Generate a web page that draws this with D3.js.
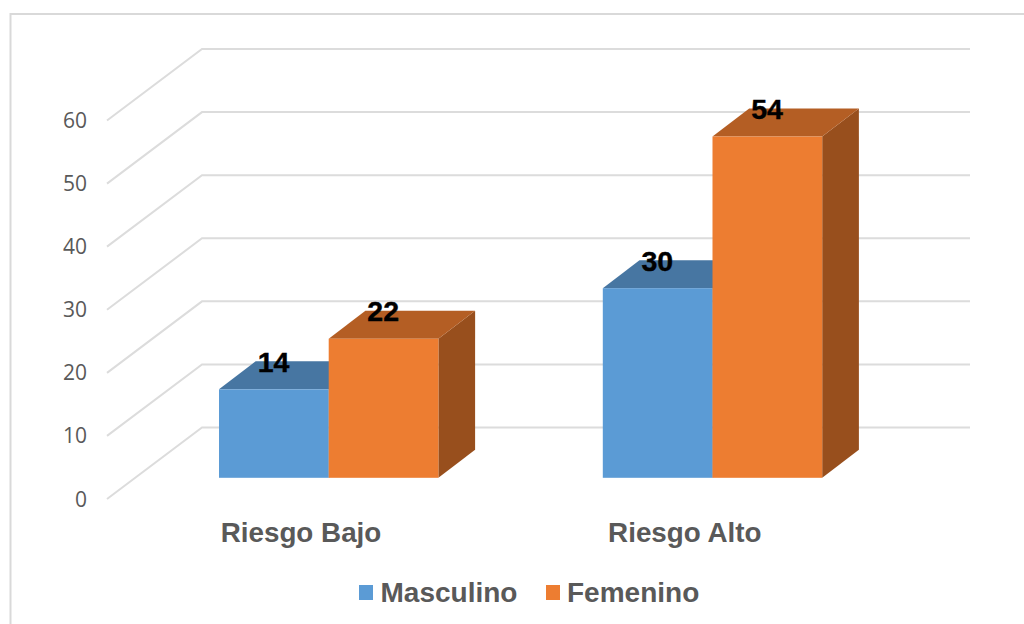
<!DOCTYPE html>
<html>
<head>
<meta charset="utf-8">
<style>
  html, body { margin: 0; padding: 0; background: #fff; }
  svg { display: block; }
</style>
<script src="https://cdn.jsdelivr.net/npm/d3@7/dist/d3.min.js"></script>
</head>
<body>
<script>
const categories = ["Riesgo Bajo", "Riesgo Alto"];
const seriesNames = ["Masculino", "Femenino"];
const masculino = [14, 30];
const femenino = [22, 54];
const axisTicks = [0, 10, 20, 30, 40, 50, 60];
const frontColors = ["#5b9bd5", "#ed7d31"];
const topColors = ["#4776a2", "#b45e24"];
const sideColors = ["#3c6387", "#984f1d"];

const svg = d3.select("body").append("svg").attr("width", 1024).attr("height", 624);
const font = "'Liberation Sans', Arial, sans-serif";

// Chart frame, open towards the right and bottom edges of the page
svg.append("path")
  .attr("d", "M10.5,624V14H1024")
  .attr("fill", "none").attr("stroke", "#d9d9d9").attr("stroke-width", 2);

// Oblique projection: depth of the floor/wall and depth of a bar
const wall = { dx: 95, dy: -71.5 };
const barDepth = { dx: 36.7, dy: -28 };

// Value scale measured on the front plane of the axis
const yAxis = d3.scaleLinear().domain([0, 60]).range([499, 120.5]);
// Value scale for the bars' front faces
const yBar = d3.scaleLinear().domain([0, 60]).range([477.8, 98.6]);

const groupX = d3.scalePoint().domain(categories).range([219, 602.8]);
const barX = d3.scaleLinear().domain([0, 1]).range([0, 109.7]);

// Gridlines: a diagonal on the side wall, then a horizontal on the back wall
const wallRight = 970;
const gridG = svg.append("g").attr("fill", "none").attr("stroke", "#dcdcdc").attr("stroke-width", 2);
gridG.selectAll("path").data(axisTicks).join("path")
  .attr("d", t => {
    const y = yAxis(t);
    return d3.line()([[107, y], [107 + wall.dx, y + wall.dy], [wallRight, y + wall.dy]]);
  });

// Axis tick labels
svg.append("g").selectAll("text").data(axisTicks).join("text")
  .attr("x", 87).attr("y", t => yAxis(t) + 7.5)
  .attr("text-anchor", "end")
  .attr("font-family", "'Open Sans', 'Noto Sans', sans-serif")
  .attr("font-size", 21).attr("fill", "#595959")
  .text(d => d);

// Bars are built per series, back-to-front left-to-right
const bars = [];
categories.forEach((c, i) => {
  [masculino, femenino].forEach((vals, s) => {
    bars.push({ cat: c, s, v: vals[i] });
  });
});

const barG = svg.append("g");
bars.forEach(b => {
  const xl = groupX(b.cat) + barX(b.s);
  const xr = xl + barX(1);
  const yt = yBar(b.v);
  const yb = yBar(0);
  const d = barDepth;
  barG.append("path") // side face
    .attr("d", d3.line()([[xr, yb], [xr + d.dx, yb + d.dy], [xr + d.dx, yt + d.dy], [xr, yt]]) + "Z")
    .attr("fill", sideColors[b.s]);
  barG.append("path") // top face
    .attr("d", d3.line()([[xl, yt], [xl + d.dx, yt + d.dy], [xr + d.dx, yt + d.dy], [xr, yt]]) + "Z")
    .attr("fill", topColors[b.s]);
  barG.append("rect") // front face
    .attr("x", xl).attr("y", yt).attr("width", xr - xl).attr("height", yb - yt)
    .attr("fill", frontColors[b.s]);
});

// Value labels sit on the top face of each bar
svg.append("g").selectAll("text").data(bars).join("text")
  .attr("x", b => groupX(b.cat) + barX(b.s) + 54.5)
  .attr("y", b => yBar(b.v) - 17.5)
  .attr("text-anchor", "middle")
  .attr("font-family", font).attr("font-weight", "bold")
  .attr("font-size", 28.5).attr("fill", "#000")
  .attr("stroke", "#000").attr("stroke-width", 0.4)
  .text(b => b.v);

// Category labels
svg.append("g").selectAll("text").data(categories).join("text")
  .attr("x", c => groupX(c) + 82)
  .attr("y", 542)
  .attr("text-anchor", "middle")
  .attr("font-family", font).attr("font-weight", "bold")
  .attr("font-size", 27.8).attr("fill", "#595959")
  .text(d => d);

// Legend
const legendX = [359, 546];
const legend = svg.append("g").selectAll("g").data(seriesNames).join("g")
  .attr("transform", (d, i) => `translate(${legendX[i]},585)`);
legend.append("rect").attr("width", 14).attr("height", 15)
  .attr("fill", (d, i) => frontColors[i]);
legend.append("text").attr("x", (d, i) => i === 0 ? 21.5 : 21).attr("y", 17)
  .attr("font-family", font).attr("font-weight", "bold")
  .attr("font-size", 28).attr("fill", "#595959")
  .text(d => d);
</script>
</body>
</html>
